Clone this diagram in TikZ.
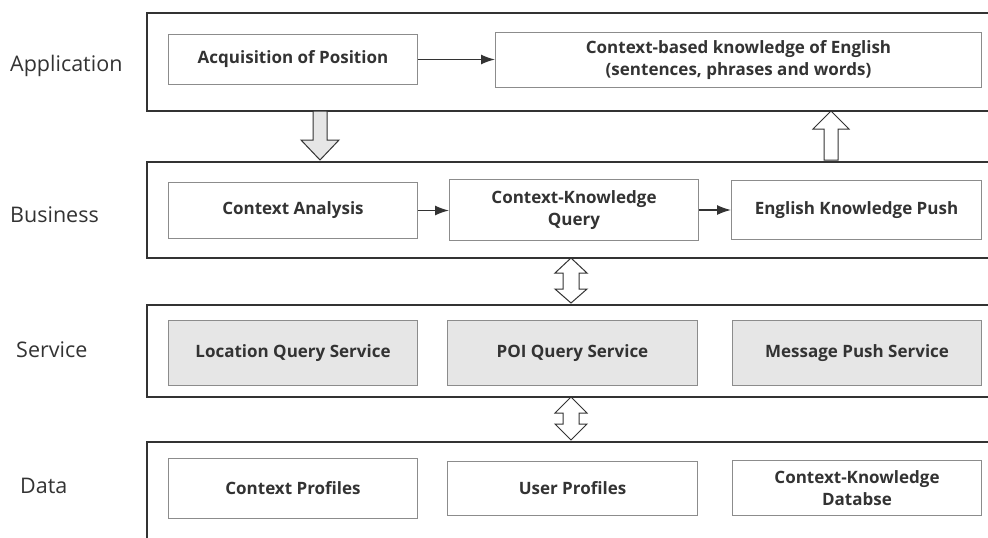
\documentclass[tikz,border=0pt]{standalone}
\usepackage{fontspec}
\setmainfont{Open Sans}
\usetikzlibrary{calc,arrows.meta}
\definecolor{txt}{HTML}{333333}
\definecolor{inb}{HTML}{8C8C8C}
\definecolor{lay}{HTML}{333333}
\definecolor{gfill}{HTML}{E6E6E6}
\tikzset{
  layer/.style={draw=lay, line width=1.8pt, anchor=north west, inner sep=0pt},
  box/.style={draw=inb, line width=1pt, fill=white, anchor=north west, inner sep=0pt, align=center,
     font=\fontsize{17}{22}\selectfont\bfseries, text=txt},
  gbox/.style={box, fill=gfill},
  lbl/.style={anchor=west, font=\fontsize{21.5}{24}\selectfont, text=txt, inner sep=0pt},
  flow/.style={draw=txt, line width=1.5pt, -{Latex[length=14pt,width=10pt]}},
  barrow/.style={draw=lay, line width=1pt, line join=miter},
}
\newcommand{\bx}[6]{\node[#1, minimum width=#4pt, minimum height=#5pt] (#2) at (#3) {#6};}
\begin{document}
\begin{tikzpicture}[x=1pt,y=-1pt]
\clip (0,0) rectangle (988,538);
\fill[white] (0,0) rectangle (988,538);
% layers
\node[layer, minimum width=900pt, minimum height=98pt] (app) at (146,12) {};
\node[layer, minimum width=900pt, minimum height=96pt] (bus) at (146,161) {};
\node[layer, minimum width=900pt, minimum height=92pt] (ser) at (146,304) {};
\node[layer, minimum width=900pt, minimum height=120pt] (dat) at (146,441) {};
% labels
\node[lbl] (lapp) at (10,66) {Application};
\node[lbl] (lbus) at (10,215) {Business};
\node[lbl] (lser) at (16,350) {Service};
\node[lbl] (ldat) at (20,486) {Data};
% application
\bx{box}{acq}{168,34}{249}{50}{Acquisition of Position}
\bx{box}{ctxk}{495,32}{486}{55}{Context-based knowledge of English\\(sentences, phrases and words)}
% business
\bx{box}{cana}{168,182}{249}{56}{Context Analysis}
\bx{box}{ckq}{449,179}{249}{61}{Context-Knowledge\\Query}
\bx{box}{ekp}{731,180}{250}{59}{English Knowledge Push}
% service
\bx{gbox}{lqs}{168,320}{249}{65}{Location Query Service}
\bx{gbox}{pqs}{447,320}{250}{65}{POI Query Service}
\bx{gbox}{mps}{732,320}{249}{65}{Message Push Service}
% data
\bx{box}{cp}{168,458}{249}{60}{Context Profiles}
\bx{box}{up}{447,461}{250}{54}{User Profiles}
\bx{box}{ckd}{732,460}{249}{55}{Context-Knowledge\\Databse}
% flows
\draw[flow] (acq.east) -- (acq.east -| ctxk.west);
\draw[flow] (cana.east) -- (cana.east -| ckq.west);
\draw[flow] (ckq.east) -- (ckq.east -| ekp.west);
% block arrows
\draw[barrow, fill=gfill] (313,111) -- (327,111) -- (327,140) -- (339,140) -- (320,160) -- (301,140) -- (313,140) -- cycle;
\draw[barrow, fill=white] (824,160) -- (838,160) -- (838,129) -- (849,129) -- (831,111) -- (813,129) -- (824,129) -- cycle;
\draw[barrow, fill=white] (571,258) -- (587,273) -- (579,273) -- (579,289) -- (587,289) -- (571,303) -- (555,289) -- (563,289) -- (563,273) -- (555,273) -- cycle;
\draw[barrow, fill=white] (571,397) -- (587,413) -- (579,413) -- (579,424) -- (587,424) -- (571,440) -- (555,424) -- (563,424) -- (563,413) -- (555,413) -- cycle;
\end{tikzpicture}
\end{document}
